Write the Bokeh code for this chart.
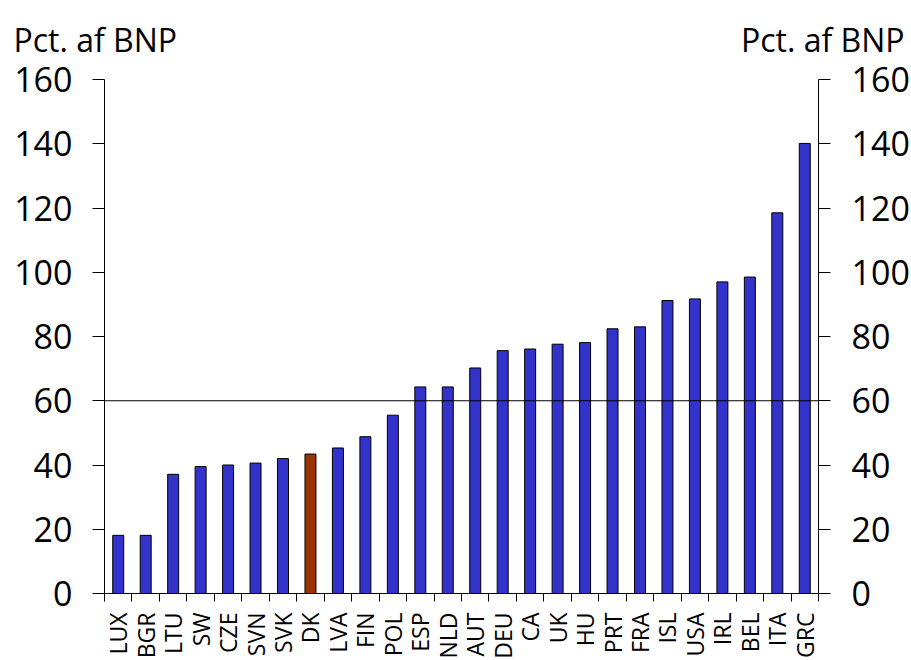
import math
from bokeh.plotting import figure
from bokeh.models import (ColumnDataSource, Range1d, LinearAxis, FixedTicker, Label)
from bokeh.embed import file_html
from bokeh.resources import INLINE

# ---- data ----
countries = ["LUX", "BGR", "LTU", "SW", "CZE", "SVN", "SVK", "DK", "LVA", "FIN",
             "POL", "ESP", "NLD", "AUT", "DEU", "CA", "UK", "HU", "PRT", "FRA",
             "ISL", "USA", "IRL", "BEL", "ITA", "GRC"]
debt = [18.1, 18.1, 37.1, 39.5, 40.0, 40.6, 42.0, 43.4, 45.3, 48.8,
        55.5, 64.3, 64.3, 70.2, 75.6, 76.1, 77.6, 78.1, 82.4, 83.0,
        91.2, 91.7, 97.0, 98.5, 118.5, 140.1]
highlight = "DK"
threshold = 60
y_ticks = [0, 20, 40, 60, 80, 100, 120, 140, 160]
unit_label = "Pct. af BNP"

BLUE = "#3333CC"
RED = "#993300"

n = len(countries)
y_max = y_ticks[-1]
centers = [i + 0.5 for i in range(n)]
bounds_ticks = list(range(n + 1))
colors = [RED if c == highlight else BLUE for c in countries]
src = ColumnDataSource(dict(x=centers, top=debt, color=colors))

# ---- layout (pixels) ----
W, H = 911, 660
PAD_L, PAD_R, PAD_T, PAD_B = 104, 93, 79, 67   # space around the plotting box
px_x = (W - PAD_L - PAD_R) / n
px_y = (H - PAD_T - PAD_B) / y_max
x_range = Range1d(-PAD_L / px_x, n + PAD_R / px_x)
y_range = Range1d(-PAD_B / px_y, y_max + PAD_T / px_y)

p = figure(width=W, height=H, output_backend="svg", toolbar_location=None,
           x_range=x_range, y_range=y_range, min_border=0, title=None)
p.outline_line_color = None
p.xgrid.visible = False
p.ygrid.visible = False
p.xaxis.visible = False
p.yaxis.visible = False

p.vbar(x="x", top="top", bottom=0, width=0.4, source=src,
       fill_color="color", line_color="black", line_width=1)

# 60 % reference line across the plotting box
p.segment(x0=[0], x1=[n], y0=[threshold], y1=[threshold],
          line_color="black", line_width=1)

num_font = "Open Sans"

def make_y(loc, standoff):
    ax = LinearAxis(fixed_location=loc, bounds=(0, y_max))
    ax.ticker = FixedTicker(ticks=y_ticks)
    ax.minor_tick_line_color = None
    ax.major_tick_in = 0
    ax.major_tick_out = 12
    ax.major_tick_line_color = "black"
    ax.axis_line_color = "black"
    ax.major_label_standoff = standoff
    ax.major_label_text_font = num_font
    ax.major_label_text_font_size = "34px"
    ax.major_label_text_color = "black"
    return ax

p.add_layout(make_y(0, 20), "left")
p.add_layout(make_y(n, 21), "right")

xa = LinearAxis(fixed_location=0, bounds=(0, n))
xa.ticker = FixedTicker(ticks=centers, minor_ticks=bounds_ticks)
xa.major_label_overrides = {c: name for c, name in zip(centers, countries)}
xa.major_label_orientation = math.pi / 2
xa.major_tick_in = 0
xa.major_tick_out = 0
xa.minor_tick_in = 0
xa.minor_tick_out = 8
xa.minor_tick_line_color = "black"
xa.major_label_standoff = 11
xa.major_label_text_font = "Open Sans"
xa.major_label_text_font_size = "23px"
xa.major_label_text_color = "black"
xa.axis_line_color = "black"
p.add_layout(xa, "below")

p.add_layout(Label(x=0, y=y_max, x_offset=-91, y_offset=40, text=unit_label,
                   text_font="Open Sans", text_font_size="32px",
                   text_align="left", text_baseline="alphabetic",
                   text_color="black"))
p.add_layout(Label(x=n, y=y_max, x_offset=86, y_offset=40, text=unit_label,
                   text_font="Open Sans", text_font_size="32px",
                   text_align="right", text_baseline="alphabetic",
                   text_color="black"))

open("out.html", "w").write(file_html(p, INLINE))
